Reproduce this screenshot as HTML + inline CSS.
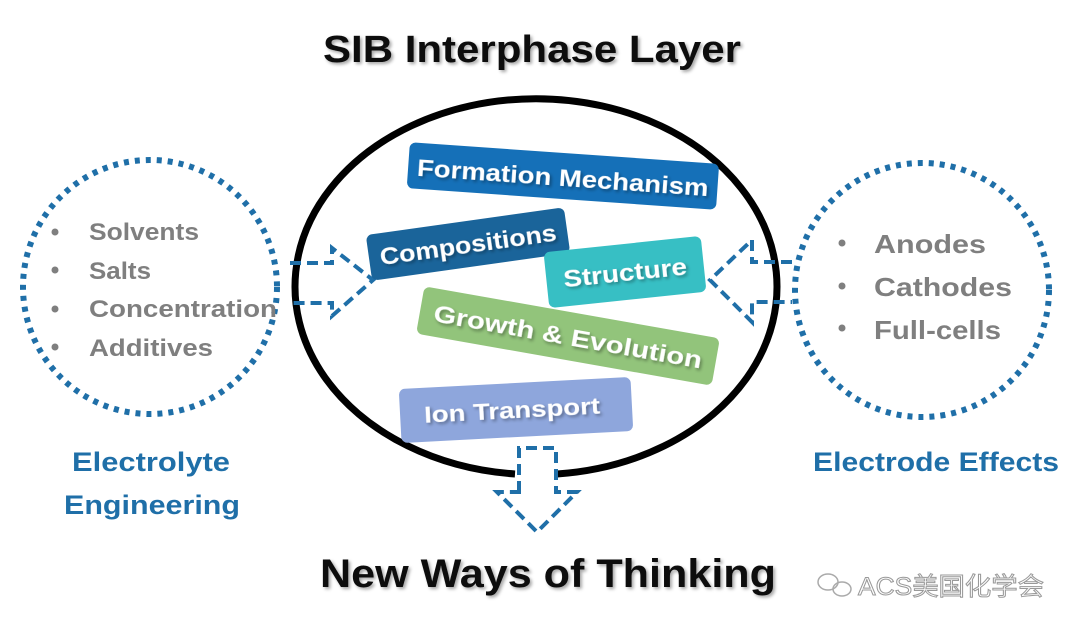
<!DOCTYPE html>
<html><head><meta charset="utf-8"><style>
body{margin:0;background:#fff;}
svg{display:block;}
text{font-family:"Liberation Sans","Noto Sans CJK SC",sans-serif;font-weight:bold;}
</style></head><body>
<svg width="1080" height="635" viewBox="0 0 1080 635" xmlns="http://www.w3.org/2000/svg">
<defs>
<filter id="sh" x="-10%" y="-10%" width="120%" height="130%"><feDropShadow dx="2" dy="2" stdDeviation="1.5" flood-color="#000" flood-opacity="0.35"/></filter>
</defs>
<rect width="1080" height="635" fill="#fff"/>
<!-- titles -->
<text x="532" y="62" font-size="38" text-anchor="middle" textLength="418" lengthAdjust="spacingAndGlyphs" fill="#111" filter="url(#sh)">SIB Interphase Layer</text>
<text x="548" y="587" font-size="40" text-anchor="middle" textLength="456" lengthAdjust="spacingAndGlyphs" fill="#111" filter="url(#sh)">New Ways of Thinking</text>

<!-- dotted circles -->
<circle cx="150" cy="287" r="127" fill="none" stroke="#1f6fa8" stroke-width="6" stroke-dasharray="5 6"/>
<circle cx="922" cy="290" r="127" fill="none" stroke="#1f6fa8" stroke-width="6" stroke-dasharray="5 6"/>

<!-- main ellipse -->
<path d="M515 474 A241 188 0 1 1 557 474" fill="none" stroke="#000" stroke-width="7"/>

<!-- left arrow -->
<path d="M290 263 L332 263 L332 248 L373 280 L332 316 L332 303 L290 303" fill="none" stroke="#1f6fa8" stroke-width="4" stroke-dasharray="11 6"/>
<!-- right arrow -->
<path d="M792 262 L752 262 L752 240 L710 280 L752 322 L752 302 L792 302" fill="none" stroke="#1f6fa8" stroke-width="4" stroke-dasharray="11 6"/>
<!-- down arrow -->
<path d="M519 492 L519 448 L556 448 L556 492 L577 492 L537 532 L497 492 Z" fill="none" stroke="#1f6fa8" stroke-width="4" stroke-dasharray="11 6"/>

<!-- boxes -->
<g transform="translate(563,175) rotate(4)">
<rect x="-155" y="-22" width="310" height="46" rx="6" fill="#1570b8"/>
<text x="0" y="11" font-size="24" text-anchor="middle" textLength="292" lengthAdjust="spacingAndGlyphs" fill="#fff" filter="url(#sh)">Formation Mechanism</text>
</g>
<g transform="translate(468,244) rotate(-8)">
<rect x="-100" y="-23" width="200" height="46" rx="6" fill="#1a649a"/>
<text x="0" y="9" font-size="24" text-anchor="middle" textLength="178" lengthAdjust="spacingAndGlyphs" fill="#fff" filter="url(#sh)">Compositions</text>
</g>
<g transform="translate(625,272) rotate(-6)">
<rect x="-79" y="-28" width="158" height="56" rx="6" fill="#37bfc4"/>
<text x="0" y="9" font-size="24" text-anchor="middle" textLength="124" lengthAdjust="spacingAndGlyphs" fill="#fff" filter="url(#sh)">Structure</text>
</g>
<g transform="translate(568,336) rotate(10)">
<rect x="-150" y="-24" width="300" height="48" rx="6" fill="#92c47b"/>
<text x="0" y="9" font-size="24" text-anchor="middle" textLength="272" lengthAdjust="spacingAndGlyphs" fill="#fff" filter="url(#sh)">Growth &amp; Evolution</text>
</g>
<g transform="translate(516,410) rotate(-3)">
<rect x="-116" y="-27" width="232" height="54" rx="6" fill="#8ea6dc"/>
<text x="-4" y="8" font-size="23" text-anchor="middle" textLength="176" lengthAdjust="spacingAndGlyphs" fill="#fff" filter="url(#sh)">Ion Transport</text>
</g>

<!-- left list -->
<g fill="#7f7f7f" font-size="24">
<circle cx="55" cy="232" r="3.5"/><circle cx="55" cy="270" r="3.5"/><circle cx="55" cy="309" r="3.5"/><circle cx="55" cy="347" r="3.5"/>
<text x="89" y="240" textLength="110" lengthAdjust="spacingAndGlyphs">Solvents</text>
<text x="89" y="279" textLength="62" lengthAdjust="spacingAndGlyphs">Salts</text>
<text x="89" y="317" textLength="188" lengthAdjust="spacingAndGlyphs">Concentration</text>
<text x="89" y="356" textLength="124" lengthAdjust="spacingAndGlyphs">Additives</text>
</g>
<!-- right list -->
<g fill="#7f7f7f" font-size="26">
<circle cx="842" cy="243" r="3.5"/><circle cx="842" cy="286" r="3.5"/><circle cx="842" cy="328" r="3.5"/>
<text x="874" y="253" textLength="112" lengthAdjust="spacingAndGlyphs">Anodes</text>
<text x="874" y="296" textLength="138" lengthAdjust="spacingAndGlyphs">Cathodes</text>
<text x="874" y="339" textLength="127" lengthAdjust="spacingAndGlyphs">Full-cells</text>
</g>

<!-- captions -->
<g fill="#1f6fa8" font-size="27">
<text x="151" y="471" text-anchor="middle" textLength="158" lengthAdjust="spacingAndGlyphs">Electrolyte</text>
<text x="152" y="514" text-anchor="middle" textLength="176" lengthAdjust="spacingAndGlyphs">Engineering</text>
<text x="936" y="471" text-anchor="middle" textLength="246" lengthAdjust="spacingAndGlyphs">Electrode Effects</text>
</g>

<!-- watermark -->
<g fill="none" stroke="#aaa" stroke-width="1.5">
<ellipse cx="828" cy="582" rx="10" ry="8"/><ellipse cx="842" cy="589" rx="9" ry="7"/>
</g>
<text x="858" y="595" font-size="25" font-weight="normal" fill="#fff" stroke="#999" stroke-width="1" textLength="186" lengthAdjust="spacingAndGlyphs" style="font-weight:normal">ACS美国化学会</text>
</svg>
</body></html>
